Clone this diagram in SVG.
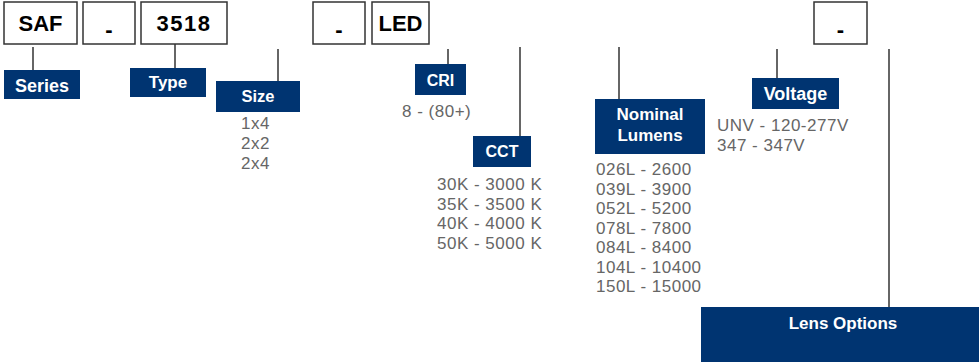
<svg xmlns="http://www.w3.org/2000/svg" width="979" height="362" viewBox="0 0 979 362">
<style>
.box{fill:#fff;stroke:#333;stroke-width:1.5}
.code{font-family:"Liberation Sans",Arial,sans-serif;font-weight:bold;font-size:22px;fill:#000;text-anchor:middle}
.lbl{fill:#003471}
.lt{font-family:"Liberation Sans",Arial,sans-serif;font-weight:bold;font-size:17px;fill:#fff;text-anchor:middle}
.opt{font-family:"Liberation Sans",Arial,sans-serif;font-size:17px;letter-spacing:0.5px;fill:#666}
.ln{stroke:#333;stroke-width:1.5;fill:none}
</style>
<g id="code-SAF"><rect class="box" x="4" y="2" width="73" height="42"/><text class="code" x="40.5" y="31">SAF</text></g>
<g id="code-dash1"><rect class="box" x="83" y="2" width="52" height="42"/><text class="code" x="109" y="37">-</text></g>
<g id="code-3518"><rect class="box" x="141" y="2" width="86" height="42"/><text class="code" x="184" y="31" style="letter-spacing:1.5px">3518</text></g>
<g id="code-dash2"><rect class="box" x="313" y="2" width="52" height="42"/><text class="code" x="339" y="37">-</text></g>
<g id="code-LED"><rect class="box" x="372" y="2" width="57" height="42"/><text class="code" x="400.5" y="31">LED</text></g>
<g id="code-dash3"><rect class="box" x="814" y="2" width="53" height="42"/><text class="code" x="840.5" y="37">-</text></g>
<g id="connectors">
<line class="ln" x1="33" y1="47" x2="33" y2="70"/>
<line class="ln" x1="175" y1="44" x2="175" y2="68"/>
<line class="ln" x1="278" y1="49" x2="278" y2="81"/>
<line class="ln" x1="448" y1="49" x2="448" y2="64"/>
<line class="ln" x1="520" y1="47" x2="520" y2="136"/>
<line class="ln" x1="619" y1="47" x2="619" y2="99"/>
<line class="ln" x1="777" y1="49" x2="777" y2="78"/>
<line class="ln" x1="889" y1="49" x2="889" y2="307"/>
</g>
<g id="series"><rect class="lbl" x="4" y="70" width="76" height="29"/><text class="lt" x="42" y="92" style="font-size:18px">Series</text></g>
<g id="type"><rect class="lbl" x="130" y="68" width="76" height="29"/><text class="lt" x="168" y="88">Type</text></g>
<g id="size"><rect class="lbl" x="216" y="81" width="84" height="31"/><text class="lt" x="258" y="102" style="font-size:16.5px">Size</text>
<text class="opt" x="241" y="129">1x4</text><text class="opt" x="241" y="149">2x2</text><text class="opt" x="241" y="169">2x4</text></g>
<g id="cri"><rect class="lbl" x="415" y="64" width="51" height="31"/><text class="lt" x="440.5" y="86" style="font-size:16px">CRI</text>
<text class="opt" x="402" y="117">8 - (80+)</text></g>
<g id="cct"><rect class="lbl" x="473" y="136" width="58" height="31"/><text class="lt" x="502" y="157" style="font-size:16px">CCT</text>
<text class="opt" x="437" y="190">30K - 3000 K</text><text class="opt" x="437" y="209.5">35K - 3500 K</text><text class="opt" x="437" y="229">40K - 4000 K</text><text class="opt" x="437" y="248.5">50K - 5000 K</text></g>
<g id="lumens"><rect class="lbl" x="595" y="99" width="110" height="55"/><text class="lt" x="650" y="120">Nominal</text><text class="lt" x="650" y="141">Lumens</text>
<text class="opt" x="596" y="175">026L - 2600</text><text class="opt" x="596" y="194.5">039L - 3900</text><text class="opt" x="596" y="214">052L - 5200</text><text class="opt" x="596" y="233.5">078L - 7800</text><text class="opt" x="596" y="253">084L - 8400</text><text class="opt" x="596" y="272.5">104L - 10400</text><text class="opt" x="596" y="292">150L - 15000</text></g>
<g id="voltage"><rect class="lbl" x="752" y="78" width="87" height="31"/><text class="lt" x="795.5" y="100" style="font-size:18px">Voltage</text>
<text class="opt" x="717" y="131">UNV - 120-277V</text><text class="opt" x="717" y="151">347 - 347V</text></g>
<g id="lens"><rect class="lbl" x="701" y="307" width="278" height="55"/><text class="lt" x="843" y="329">Lens Options</text></g>
</svg>
